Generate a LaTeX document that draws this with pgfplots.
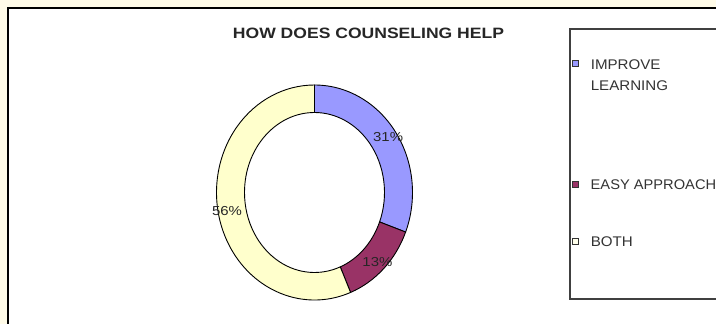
\documentclass[border=0pt]{standalone}
\usepackage{pgfplots}
\pgfplotsset{compat=1.18}
\usepackage{pgfplotstable}
\usepackage{fontspec}
\setmainfont{Liberation Sans}
\definecolor{sblue}{HTML}{9999FF}
\definecolor{spurple}{HTML}{993366}
\definecolor{syellow}{HTML}{FFFFCC}
\definecolor{bgcream}{RGB}{255,251,232}

\pgfplotstableread{
slice value
improve 31
easy 13
both 56
}\ringdata

\newcommand\seg[3]{%
  \filldraw[fill=#1, draw=black, line width=0.9pt]
    ([shift={(#2:98pt and 107.5pt)}]axis cs:314.5,131.5)
    arc[start angle=#2, end angle=#3, x radius=98pt, y radius=107.5pt]
    -- ([shift={(#3:70pt and 80pt)}]axis cs:314.5,131.5)
    arc[start angle=#3, end angle=#2, x radius=70pt, y radius=80pt]
    -- cycle;}
\newcommand\seglabel[2]{%
  \node[font=\fontsize{13}{15}\selectfont, xscale=1.15, text=black!85]
    at ([shift={(#1:89pt and 99pt)}]axis cs:314.5,131.5) {#2\%};}

\begin{document}
\begin{tikzpicture}
\useasboundingbox (0,0) rectangle (716pt,324pt);
\clip (0,0) rectangle (716pt,324pt);
\pgfplotstablegetelem{0}{value}\of\ringdata \edef\va{\pgfplotsretval}
\pgfplotstablegetelem{1}{value}\of\ringdata \edef\vb{\pgfplotsretval}
\pgfplotstablegetelem{2}{value}\of\ringdata \edef\vc{\pgfplotsretval}
\pgfmathsetmacro\aA{90}
\pgfmathsetmacro\aB{\aA-3.6*\va}
\pgfmathsetmacro\aC{\aB-3.6*\vb}
\pgfmathsetmacro\aD{\aC-3.6*\vc}
\pgfmathsetmacro\mA{(\aA+\aB)/2}
\pgfmathsetmacro\mB{(\aB+\aC)/2}
\pgfmathsetmacro\mC{(\aC+\aD)/2}
\begin{axis}[
  at={(0,0)}, anchor=south west,
  scale only axis, width=716pt, height=324pt,
  xmin=0, xmax=716, ymin=0, ymax=324,
  hide axis, clip=false,
]
% background and frame
\fill[bgcream] (axis cs:0,0) rectangle (axis cs:716,324);
\fill[white] (axis cs:8,0) rectangle (axis cs:716,316);
\draw[black, line width=1.8pt] (axis cs:8,0) -- (axis cs:8,316) -- (axis cs:716,316);
% title
\node[anchor=base, font=\bfseries\fontsize{15}{17}\selectfont, xscale=1.17, text=black!85]
  at (axis cs:368.5,285) {HOW DOES COUNSELING HELP};
% ring
\seg{sblue}{\aA}{\aB}
\seg{spurple}{\aB}{\aC}
\seg{syellow}{\aC}{\aD}
\seglabel{\mA}{\va}
\seglabel{\mB}{\vb}
\seglabel{\mC}{\vc}
% legend
\draw[line width=1.5pt, draw=black!75] (axis cs:716,25) -- (axis cs:570,25) -- (axis cs:570,295) -- (axis cs:716,295);
\filldraw[fill=sblue, draw=black!80, line width=0.9pt] (axis cs:572.5,257.5) rectangle (axis cs:578,263.5);
\filldraw[fill=spurple, draw=black!80, line width=0.9pt] (axis cs:572.5,137) rectangle (axis cs:578,143);
\filldraw[fill=syellow!40!white, draw=black!80, line width=0.9pt] (axis cs:572.5,80) rectangle (axis cs:578,86);
\begin{scope}[every node/.style={anchor=base west, font=\fontsize{14}{16}\selectfont, xscale=1.08, text=black!80}]
\node at (axis cs:587,254.7) {IMPROVE};
\node at (axis cs:587,233.3) {LEARNING};
\node[xscale=0.97] at (axis cs:587,134.7) {EASY APPROACH};
\node at (axis cs:587,77.3) {BOTH};
\end{scope}
\end{axis}
\end{tikzpicture}
\end{document}
